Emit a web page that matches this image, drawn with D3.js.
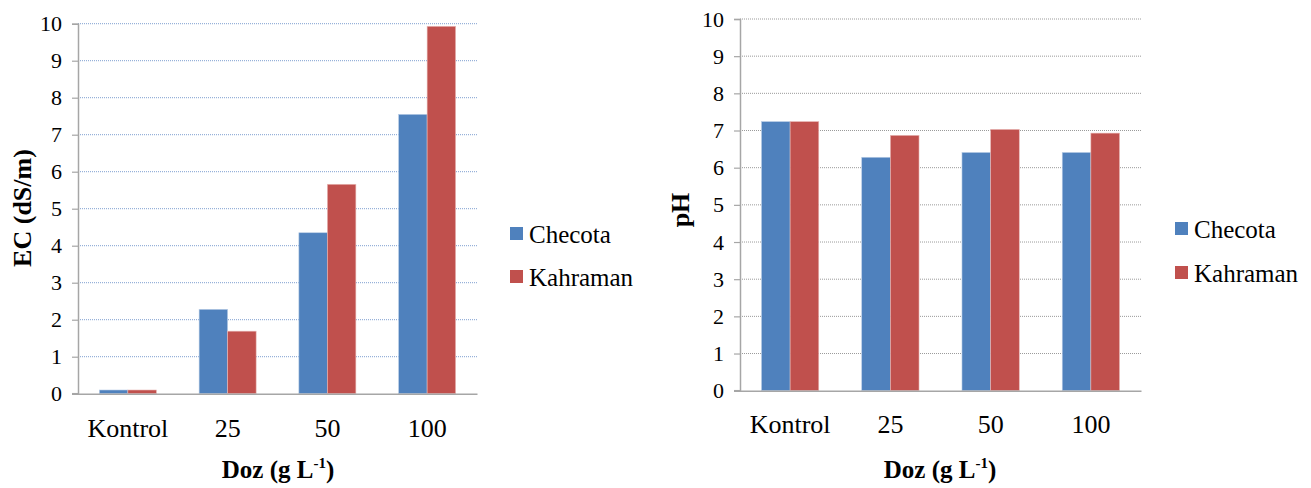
<!DOCTYPE html>
<html><head><meta charset="utf-8">
<script src="https://cdn.jsdelivr.net/npm/d3@7"></script>
<style>body{margin:0;background:#fff}svg{display:block}</style>
</head><body>
<svg id="c" width="1311" height="488"></svg>
<script>
const categories = ["Kontrol","25","50","100"];
const seriesNames = ["Checota","Kahraman"];
const ecChecota = [0.1, 2.28, 4.35, 7.55];
const ecKahraman = [0.1, 1.69, 5.66, 9.93];
const phChecota = [7.24, 6.28, 6.41, 6.41];
const phKahraman = [7.24, 6.87, 7.03, 6.93];
const yTicks = [0,1,2,3,4,5,6,7,8,9,10];
const colors = ["#4F81BD","#C0504D"];
const FONT = "'Liberation Serif', 'Times New Roman', serif";

const svg = d3.select("#c");

function panel(o) {
  const g = svg.append("g");
  const x = d3.scaleBand().domain(categories).range([o.x0, o.x1]).paddingInner(0).paddingOuter(0);
  const y = d3.scaleLinear().domain([0,10]).range([o.y0, o.y1]);
  const barW = x.bandwidth() / 3.5;
  g.selectAll(".grid").data(yTicks.filter(d=>d>0)).enter().append("line")
    .attr("x1", o.x0).attr("x2", o.x1).attr("y1", d=>y(d)).attr("y2", d=>y(d))
    .attr("stroke", o.grid).attr("stroke-width", 1).attr("stroke-dasharray", "1,1");
  [o.s1, o.s2].forEach((arr, si) => {
    g.selectAll(".b"+si).data(arr).enter().append("rect")
      .attr("x", (d,i) => x(categories[i]) + x.bandwidth()/2 - barW + si*barW)
      .attr("y", d => y(d)).attr("width", barW).attr("height", d => y(0) - y(d))
      .attr("fill", colors[si]).attr("stroke", si ? "#e8b8b6" : "#b9cde6").attr("stroke-width", 0.6);
  });
  const ya = d3.axisLeft(y).tickValues(yTicks).tickSize(6).tickPadding(10).tickFormat(d3.format("d"));
  const yg = g.append("g").attr("transform", `translate(${o.x0},0)`).call(ya)
    .attr("font-family", FONT).attr("font-size", 22);
  yg.select(".domain").attr("stroke", "#a6a6a6").attr("stroke-width", 1.5);
  yg.selectAll(".tick line").attr("stroke", "#a6a6a6").attr("stroke-width", 1.2);
  yg.selectAll(".tick text").attr("fill","#000");
  const xa = d3.axisBottom(x).tickSize(0).tickPadding(0);
  const xg = g.append("g").attr("transform", `translate(0,${o.y0})`).call(xa)
    .attr("font-family", FONT).attr("font-size", 26);
  xg.select(".domain").attr("stroke", "#a6a6a6").attr("stroke-width", 1.5);
  xg.selectAll(".tick text").attr("fill","#000").attr("dy", null).attr("y", o.xLabelY - o.y0);
  g.append("line").attr("x1", o.x0-6).attr("x2", o.x0).attr("y1", o.y0).attr("y2", o.y0)
    .attr("stroke", "#a6a6a6").attr("stroke-width", 1.5);
  const xt = g.append("text").attr("x", o.xTitleX).attr("y", 478).attr("text-anchor","middle")
    .attr("font-family", FONT).attr("font-size", 25).attr("font-weight","bold");
  xt.append("tspan").text("Doz (g L");
  xt.append("tspan").attr("font-size", 15).attr("dy", -10).text("-1");
  xt.append("tspan").attr("dy", 10).text(")");
  g.append("text").attr("transform", `translate(${o.yTitleX},${o.yTitleY}) rotate(-90)`)
    .attr("font-family", FONT).attr("text-anchor","middle").attr("font-size", 26).attr("font-weight","bold").text(o.yTitle);
  seriesNames.forEach((n, i) => {
    g.append("rect").attr("x", o.lx).attr("y", o.ly[i]-16).attr("width", 13).attr("height", 13).attr("fill", colors[i]);
    g.append("text").attr("x", o.lx+19).attr("y", o.ly[i]).attr("font-family", FONT)
      .attr("font-size", 25).text(n);
  });
}

panel({x0:78, x1:477, y0:393.7, y1:23.7, s1:ecChecota, s2:ecKahraman, grid:"#7f9fd0",
  xLabelY:437, xTitleX:278, yTitle:"EC (dS/m)", yTitleX:31, yTitleY:208, lx:510, ly:[243,286]});
panel({x0:740, x1:1141, y0:390.7, y1:19, s1:phChecota, s2:phKahraman, grid:"#9a9a9a",
  xLabelY:433, xTitleX:940, yTitle:"pH", yTitleX:689, yTitleY:210, lx:1175, ly:[238,282]});
</script>
</body></html>
